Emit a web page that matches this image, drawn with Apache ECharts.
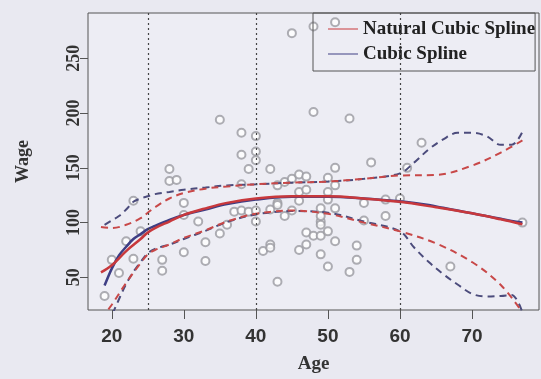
<!DOCTYPE html>
<html>
<head>
<meta charset="utf-8">
<script src="https://cdn.jsdelivr.net/npm/echarts@6/dist/echarts.min.js"></script>
<style>
html,body{margin:0;padding:0;background:#e9e9f1;}
#c{width:541px;height:379px;}
</style>
</head>
<body>
<div id="c"></div>
<script>
// ---- data ----
const xTicks = [20, 30, 40, 50, 60, 70];
const yTicks = [50, 100, 150, 200, 250];
const knots = [25, 40, 60];

const scatterAge  = [19,20,21,22,23,23,24,27,27,28,28,29,30,30,30,32,33,33,35,35,36,37,38,38,38,38,39,39,40,40,40,40,40,41,42,42,42,42,43,43,43,43,44,44,45,45,45,46,46,46,46,47,47,47,47,48,48,48,49,49,49,49,49,49,50,50,50,50,50,51,51,51,51,51,53,53,54,54,55,55,56,58,58,60,61,63,67,77];
const scatterWage = [33,66,54,83,120,67,92,66,56,149,138,139,118,107,73,101,82,65,194,90,98,110,182,162,135,111,149,110,179,165,157,111,101,74,149,112,80,77,134,118,116,46,137,106,140,111,273,144,128,120,75,142,91,80,130,201,279,88,113,101,98,88,71,106,141,128,121,92,60,150,134,113,83,283,195,55,79,66,118,102,155,121,106,122,150,173,60,100];

const ncsAges  = [18.5,20,22,24,25,26,28,30,33,36,40,45,50,55,60,65,70,74,77];
const ncsFit   = [54.5,61,74,85,91,95,101,107,113,118,122,124,124,122,119,114,108.5,103,98.5];
const ncsUpper = [96,95,98,104,109,114,122,127,131,133,135,136.5,137.5,140,143,143.5,152,164,175];
const ncsLower = [12,25,45,63,71,75,80,86,93,101,108,111,108,100,92,81,64,43,18];

const csAges  = [19,20,21,22,23,24,25,26,28,30,33,36,40,45,50,55,60,62,64,66,68,70,72,74,75.5,77];
const csFit   = [42.5,58,70,78,85,89.5,94,97,102.5,107,112,117,121,123.5,123.5,122,119.5,118,116,113.5,111,108.5,106,103.5,101.5,100];
const csUpper = [98,102,106,112,119,122,124,126,128,130,132,134,135,136.5,137.5,140,145,155,167,176,182,182,179,171,171,183];
const csLower = [-15,14,30,44,55,64,72,76,80,85,92.5,100.5,107.5,110.5,109,101,92,77,64,53,43.5,35,32.5,33,34,18];

function pairs(xs, ys){ return xs.map((x,i)=>[x, ys[i]]); }

const RED = '#c8383c', BLUE = '#3e3e84';
const RED_D = '#c84848', BLUE_D = '#4c4c7c';
const serif = '"Liberation Serif", "Times New Roman", serif';

const chart = echarts.init(document.getElementById('c'), null, {renderer:'canvas'});
chart.setOption({
  backgroundColor: '#e9e9f1',
  animation: false,
  grid: {left: 88, right: 2, top: 13, bottom: 66, show: true, borderColor: '#555', borderWidth: 1, backgroundColor: '#ededf4'},
  legend: {
    orient: 'vertical', left: 313, top: 13,
    padding: [6, 0, 7, 15], itemGap: 5, itemWidth: 30, itemHeight: 2,
    borderColor: '#555', borderWidth: 1, borderRadius: 0,
    textStyle: {fontFamily: serif, fontWeight: 'bold', fontSize: 19, color: '#222', lineHeight: 20},
    data: [
      {name: 'Natural Cubic Spline', icon: 'path://M0,0 L30,0 L30,1 L0,1 Z', itemStyle: {color: RED}},
      {name: 'Cubic Spline', icon: 'path://M0,0 L30,0 L30,1 L0,1 Z', itemStyle: {color: BLUE}}
    ]
  },
  xAxis: {
    type: 'value', min: 16.7, max: 79.3,
    splitLine: {show: false}, axisLine: {show: false},
    axisTick: {show: true, length: 9, customValues: xTicks, lineStyle: {color: '#555'}},
    axisLabel: {customValues: xTicks, margin: 17, fontFamily: '"Liberation Sans", Arial, sans-serif', fontWeight: 'bold', fontSize: 19, color: '#333'},
    name: 'Age', nameLocation: 'middle', nameGap: 45,
    nameTextStyle: {fontFamily: serif, fontWeight: 'bold', fontSize: 19, color: '#333'}
  },
  yAxis: {
    type: 'value', min: 20.2, max: 291.4,
    splitLine: {show: false}, axisLine: {show: false},
    axisTick: {show: true, length: 8, customValues: yTicks, lineStyle: {color: '#555'}},
    axisLabel: {customValues: yTicks, rotate: 90, margin: 5, fontFamily: serif, fontWeight: 'bold', fontSize: 18, color: '#333'},
    name: 'Wage', nameLocation: 'middle', nameGap: 56, nameRotate: 90,
    nameTextStyle: {fontFamily: serif, fontWeight: 'bold', fontSize: 18, color: '#333'}
  },
  series: [
    {type: 'scatter', name: 'data', data: pairs(scatterAge, scatterWage), symbol: 'emptyCircle', symbolSize: 8,
     itemStyle: {color: '#9a9aa0', borderColor: '#9a9aa0', borderWidth: 1}, z: 1,
     markLine: {silent: true, symbol: 'none', label: {show: false},
       lineStyle: {type: [2, 3], color: '#444', width: 1.2},
       data: knots.map(k => ({xAxis: k}))}},
    {type: 'line', name: 'csUpper', data: pairs(csAges, csUpper), smooth: 0.35, symbol: 'none',
     lineStyle: {color: BLUE_D, width: 2, type: [7, 5]}, z: 2},
    {type: 'line', name: 'csLower', data: pairs(csAges, csLower), smooth: 0.35, symbol: 'none',
     lineStyle: {color: BLUE_D, width: 2, type: [7, 5]}, z: 2},
    {type: 'line', name: 'ncsUpper', data: pairs(ncsAges, ncsUpper), smooth: 0.35, symbol: 'none',
     lineStyle: {color: RED_D, width: 2, type: [7, 5]}, z: 3},
    {type: 'line', name: 'ncsLower', data: pairs(ncsAges, ncsLower), smooth: 0.35, symbol: 'none',
     lineStyle: {color: RED_D, width: 2, type: [7, 5]}, z: 3},
    {type: 'line', name: 'Cubic Spline', data: pairs(csAges, csFit), smooth: 0.35, symbol: 'none',
     itemStyle: {color: BLUE}, lineStyle: {color: BLUE, width: 2.5}, z: 4},
    {type: 'line', name: 'Natural Cubic Spline', data: pairs(ncsAges, ncsFit), smooth: 0.35, symbol: 'none',
     itemStyle: {color: RED}, lineStyle: {color: RED, width: 2.5}, z: 5}
  ]
});
</script>
</body>
</html>
